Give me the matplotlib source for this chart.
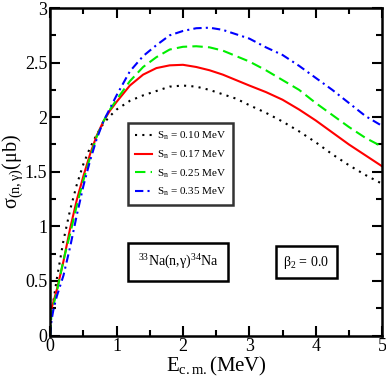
import matplotlib
matplotlib.use('Agg')
import matplotlib.pyplot as plt
from matplotlib.ticker import MultipleLocator

plt.rcParams['font.family'] = ['Liberation Serif', 'DejaVu Serif']
plt.rcParams['mathtext.fontset'] = 'custom'
plt.rcParams['mathtext.rm'] = 'Liberation Serif'
plt.rcParams['mathtext.it'] = 'Liberation Serif'
plt.rcParams['mathtext.bf'] = 'Liberation Serif:bold'

# values
e_cm = [0.0, 0.02, 0.05, 0.1, 0.2, 0.3, 0.4, 0.5, 0.6, 0.7, 0.8, 0.9, 1.0, 1.2, 1.4, 1.6, 1.8,
        2.0, 2.2, 2.4, 2.6, 2.8, 3.0, 3.25, 3.5, 3.75, 4.0, 4.25, 4.5, 4.75, 5.0]
sig_010 = [None, None, 0.32, 0.52, 0.87, 1.15, 1.38, 1.57, 1.72, 1.84, 1.94, 2.01, 2.07, 2.15, 2.20, 2.24, 2.28,
           2.29, 2.28, 2.25, 2.21, 2.17, 2.11, 2.04, 1.96, 1.87, 1.77, 1.66, 1.56, 1.47, 1.39]
sig_017 = [None, 0.25, 0.31, 0.42, 0.68, 0.98, 1.24, 1.46, 1.66, 1.83, 1.96, 2.06, 2.14, 2.29, 2.39, 2.45, 2.475,
           2.48, 2.46, 2.43, 2.39, 2.34, 2.29, 2.23, 2.16, 2.07, 1.97, 1.86, 1.75, 1.65, 1.55]
sig_025 = [0.0, 0.2, 0.28, 0.40, 0.69, 0.93, 1.19, 1.42, 1.63, 1.82, 1.96, 2.07, 2.16, 2.33, 2.46, 2.55, 2.62,
           2.645, 2.65, 2.64, 2.61, 2.56, 2.51, 2.43, 2.34, 2.25, 2.13, 2.02, 1.91, 1.81, 1.73]
sig_035 = [0.0, 0.14, 0.24, 0.36, 0.55, 0.81, 1.10, 1.37, 1.60, 1.80, 1.96, 2.08, 2.20, 2.42, 2.56, 2.66, 2.75,
           2.79, 2.815, 2.82, 2.80, 2.76, 2.72, 2.64, 2.57, 2.47, 2.36, 2.25, 2.13, 2.01, 1.92]
sn_labels = ['0.10', '0.17', '0.25', '0.35']


def clean(x, y):
    pts = [(a, b) for a, b in zip(x, y) if b is not None]
    return [p[0] for p in pts], [p[1] for p in pts]


fig = plt.figure(figsize=(3.86, 3.83), dpi=100)
ax = fig.add_axes([0.130, 0.124, 0.860, 0.855])

styles = [
    dict(color='black', linestyle=(0, (1, 2.5))),
    dict(color='red', linestyle='-'),
    dict(color='#00ee00', linestyle=(0, (5, 2.5))),
    dict(color='blue', linestyle=(0, (4, 2, 1, 2))),
]
for sig, lab, st in zip([sig_010, sig_017, sig_025, sig_035], sn_labels, styles):
    x, y = clean(e_cm, sig)
    ax.plot(x, y, lw=1.5, label=r'$\mathrm{S_n}$ = %s MeV' % lab, **st)

ax.set_xlim(0, 5)
ax.set_ylim(0, 3)
ax.xaxis.set_minor_locator(MultipleLocator(0.5))
ax.yaxis.set_minor_locator(MultipleLocator(0.25))
ax.set_xticks([0, 1, 2, 3, 4, 5])
ax.set_xticklabels(['0', '1', '2', '3', '4', '5'])
ax.set_yticks([0, 0.5, 1, 1.5, 2, 2.5, 3])
ax.set_yticklabels(['0', '0.5', '1', '1.5', '2', '2.5', '3'])
ax.tick_params(which='both', direction='in', top=True, right=True, width=1.5, labelsize=13, pad=2)
ax.tick_params(which='major', length=7)
ax.tick_params(which='minor', length=4)
for s in ax.spines.values():
    s.set_linewidth(1.8)

ax.set_xlabel(r'$\mathrm{E_{c.m.}}$(MeV)', fontsize=15, labelpad=0)
ax.set_ylabel(r'$\mathrm{σ_{(n,γ)}}$(μb)', fontsize=14.5)
ax.yaxis.set_label_coords(-0.075, 0.5)

leg = ax.legend(loc='upper left', bbox_to_anchor=(0.235, 0.648), fontsize=8,
                frameon=True, fancybox=False, edgecolor='black', borderaxespad=0,
                handlelength=1.5, handletextpad=0.5, labelspacing=0.55, borderpad=0.6)
leg.get_frame().set_linewidth(1.8)

box = dict(boxstyle='square,pad=0.7', facecolor='white', edgecolor='black', linewidth=1.8)
ax.text(0.386, 0.224, r'$\mathrm{^{33}}$Na(n,γ)$\mathrm{^{34}}$Na', transform=ax.transAxes,
        ha='center', va='center', fontsize=10, bbox=box)
ax.text(0.771, 0.224, r'$\mathrm{β_2}$ = 0.0', transform=ax.transAxes,
        ha='center', va='center', fontsize=10,
        bbox=dict(boxstyle='square,pad=0.55', facecolor='white', edgecolor='black', linewidth=1.8))

fig.savefig('out.png', dpi=100)
